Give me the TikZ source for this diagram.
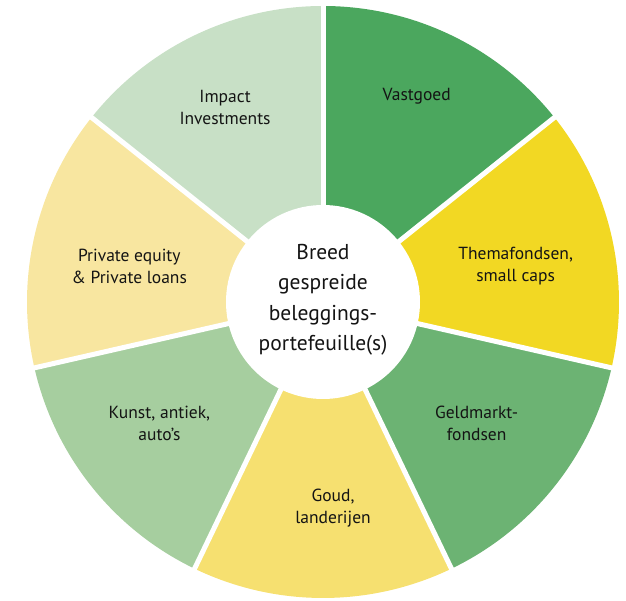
\documentclass[tikz,border=0pt]{standalone}
\usepackage{fontspec}
\setmainfont{PT Sans}
\usetikzlibrary{positioning}
\definecolor{vastgoedgreen}{HTML}{4BA75E}
\definecolor{themayellow}{HTML}{F2D823}
\definecolor{geldgreen}{HTML}{6CB373}
\definecolor{goudyellow}{HTML}{F6E070}
\definecolor{kunstgreen}{HTML}{A6CE9F}
\definecolor{privateyellow}{HTML}{F8E6A0}
\definecolor{impactgreen}{HTML}{C8E0C6}
\tikzset{
  seglabel/.style={align=center,font=\fontsize{17.5}{22}\selectfont,text=black!92},
  hublabel/.style={align=center,font=\fontsize{21.5}{30.5}\selectfont,text=black!92},
  gap/.style={draw=white,line width=5pt}
}

\begin{document}
\begin{tikzpicture}[x=1pt,y=1pt]
			\useasboundingbox (-323,-299) rectangle (303,302);
			\coordinate (C) at (0,0);
			
			%Sectors
			\foreach \a/\col in {90/vastgoedgreen,38.5714/themayellow,-12.8571/geldgreen,-64.2857/goudyellow,-115.7143/kunstgreen,-167.1429/privateyellow,141.4286/impactgreen}
				\fill[\col] (C) -- (\a:296) arc[start angle=\a,end angle=\a-51.4286,radius=296] -- cycle;
			
			%Gaps
			\foreach \a in {90,38.5714,-12.8571,-64.2857,-115.7143,-167.1429,141.4286}
				\draw[gap] (C) -- (\a:302);
			\fill[white] (C) circle (97);
			
			%Labels
			\node[hublabel] (hub) at (0,2) {Breed\\gespreide\\beleggings-\\portefeuille(s)};
			\node[seglabel] (vastgoed) at (65.5:226) {Vastgoed};
			\node[seglabel] (thema) at (10.6:196) {Themafondsen,\\small caps};
			\node[seglabel] (geldmarkt) at (-38.4:196) {Geldmarkt-\\fondsen};
			\node[seglabel] (goud) at (-87.2:206) {Goud,\\landerijen};
			\node[seglabel] (kunst) at (-143.3:204) {Kunst, antiek,\\auto’s};
			\node[seglabel] (private) at (169.5:197) {Private equity\\\&\ Private loans};
			\node[seglabel] (impact) at (116.7:218) {Impact\\Investments};
		\end{tikzpicture}
\end{document}
